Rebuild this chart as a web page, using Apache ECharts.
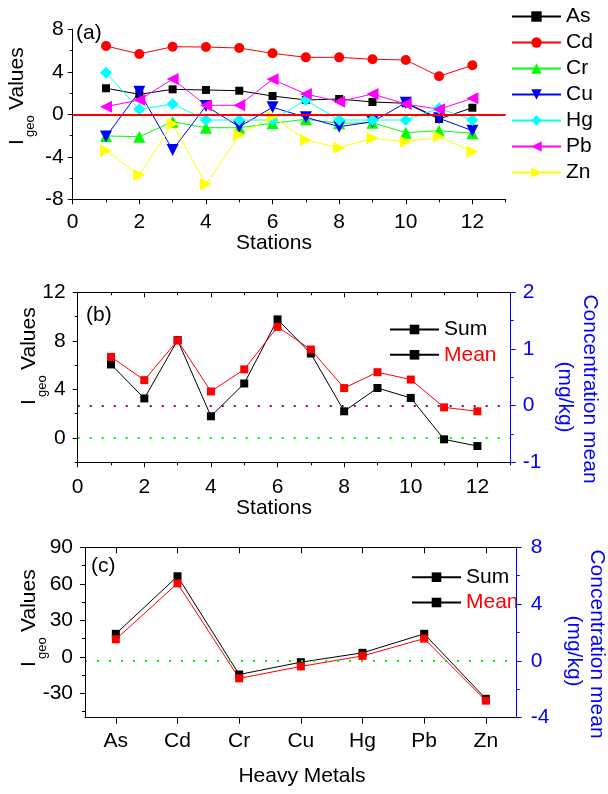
<!DOCTYPE html>
<html><head><meta charset="utf-8">
<script src="https://cdn.jsdelivr.net/npm/echarts@6/dist/echarts.min.js"></script>
<style>html,body{margin:0;padding:0;background:#fff}#c{width:608px;height:794px}</style>
</head><body><div id="c"></div>
<script>
// ---------- data ----------
const stations = [1,2,3,4,5,6,7,8,9,10,11,12];
const As = [2.45,1.88,2.35,2.29,2.22,1.72,1.35,1.44,1.16,1.04,-0.44,0.62];
const Cd = [6.43,5.68,6.36,6.33,6.24,5.74,5.36,5.36,5.18,5.11,3.58,4.61];
const Cr = [-2.04,-2.11,-0.70,-1.26,-1.26,-0.85,-0.47,-0.85,-0.79,-1.73,-1.54,-1.79];
const Cu = [-2.10,2.13,-3.36,0.78,-1.17,0.66,-0.28,-1.17,-0.70,1.09,-0.38,-1.54];
const Hg = [3.92,0.47,0.97,-0.54,-0.54,-0.54,1.35,-0.54,-0.54,-0.54,0.56,-0.54];
const Pb = [0.72,1.35,3.32,0.85,0.85,3.29,1.91,1.19,1.91,0.97,0.47,1.51];
const Zn = [-3.42,-5.71,-0.91,-6.59,-1.95,-0.22,-2.42,-3.14,-2.26,-2.58,-2.11,-3.52];
const stationSum = [6.06,3.26,8.06,1.79,4.49,9.77,6.96,2.20,4.12,3.30,-0.11,-0.66];
const stationMean = [0.86,0.45,1.15,0.25,0.64,1.39,0.99,0.31,0.59,0.46,-0.03,-0.10];
const metals = ['As','Cd','Cr','Cu','Hg','Pb','Zn'];
const metalSum = [18.9,66.2,-14.5,-4.4,3.3,18.9,-34.5];
const metalMean = [1.52,5.46,-1.23,-0.39,0.35,1.57,-2.80];
const stationTicks = [0,2,4,6,8,10,12];
const stationMinor = [1,3,5,7,9,11,13];
const bLeftTicks = [0,4,8,12];
const bLeftMinor = [-2,2,6,10];
const cLeftTicks = [-30,0,30,60,90];
const cLeftMinor = [-45,-15,15,45,75];

// ---------- helpers ----------
const FONT = '"Liberation Sans", Arial, sans-serif';
const FS = 21;
function axis(o) {
  const a = {
    type: o.type || 'value',
    gridIndex: o.grid,
    position: o.position,
    axisLine: {show: o.line !== false, onZero: false, lineStyle: {color: o.color || '#000', width: 1}},
    splitLine: {show: false},
    axisTick: {show: true, inside: !!o.inside, length: o.tickLen || 5, lineStyle: {color: o.color || '#000', width: 1}},
    axisLabel: {show: !!o.label, fontSize: FS, fontFamily: FONT, color: o.color || '#000', margin: o.margin || 10},
    minorTick: {show: !!o.minor, splitNumber: 2, length: 3, lineStyle: {color: o.color || '#000', width: 1}},
    z: 5
  };
  if (o.min !== undefined) a.min = o.min;
  if (o.max !== undefined) a.max = o.max;
  if (o.interval !== undefined) a.interval = o.interval;
  if (o.ticks) a.axisTick.customValues = o.ticks;
  if (o.labels) a.axisLabel.customValues = o.labels;
  if (o.data) { a.data = o.data; a.boundaryGap = true; a.axisTick.alignWithLabel = true; a.axisTick.interval = 0; a.axisLabel.interval = 0; }
  return a;
}
function pairs(xs, ys) { return xs.map((x, i) => [x, ys[i]]); }
function dotted(color) {
  return {silent: true, symbol: ['none','none'], label: {show: false}, animation: false,
    lineStyle: {color: color, width: 2, type: [2, 10]}, data: [{yAxis: 0}]};
}

const xAxis = [
  axis({grid:0, position:'bottom', min:0, max:13, ticks:stationTicks, labels:stationTicks, label:true, margin:12}),
  axis({grid:0, position:'bottom', min:0, max:13, ticks:stationMinor, line:false, tickLen:3}),
  axis({grid:1, position:'bottom', min:0, max:13, ticks:stationTicks, labels:stationTicks, label:true, margin:14}),
  axis({grid:1, position:'bottom', min:0, max:13, ticks:stationMinor, line:false, tickLen:3}),
  axis({grid:1, position:'top', min:0, max:13, ticks:stationTicks, inside:true}),
  axis({grid:1, position:'top', min:0, max:13, ticks:stationMinor, line:false, tickLen:3, inside:true}),
  axis({grid:2, position:'bottom', type:'category', data:metals, label:true, margin:13, tickLen:6}),
  axis({grid:2, position:'top', type:'category', data:metals, inside:true, tickLen:6})
];
const yAxis = [
  axis({grid:0, position:'left', min:-8, max:8, interval:4, minor:true, label:true, margin:9}),
  axis({grid:1, position:'left', min:-2, max:12, ticks:bLeftTicks, labels:bLeftTicks, label:true, margin:12}),
  axis({grid:1, position:'left', min:-2, max:12, ticks:bLeftMinor, line:false, tickLen:3}),
  axis({grid:1, position:'right', min:-1, max:2, interval:1, minor:true, label:true, margin:12, color:'#0000ff'}),
  axis({grid:2, position:'left', min:-50, max:90, ticks:cLeftTicks, labels:cLeftTicks, label:true, margin:12}),
  axis({grid:2, position:'left', min:-50, max:90, ticks:cLeftMinor, line:false, tickLen:3}),
  axis({grid:2, position:'right', min:-4, max:8, interval:4, minor:true, label:true, margin:14, color:'#0000ff'})
];

function metalSeries(name, arr, color, symbol, size, rot) {
  return {type:'line', name, xAxisIndex:0, yAxisIndex:0, data: pairs(stations, arr),
    symbol, symbolSize: size, symbolRotate: rot || 0,
    lineStyle:{color, width:1}, itemStyle:{color}, z: 3, animation:false};
}
const series = [
  metalSeries('As', As, '#000000', 'rect', 8),
  metalSeries('Cd', Cd, '#ff0000', 'circle', 10),
  metalSeries('Cr', Cr, '#00ff00', 'triangle', 12),
  metalSeries('Cu', Cu, '#0000ff', 'triangle', 12, 180),
  metalSeries('Hg', Hg, '#00ffff', 'diamond', 12),
  metalSeries('Pb', Pb, '#ff00ff', 'triangle', 12, 90),
  metalSeries('Zn', Zn, '#ffff00', 'triangle', 12, -90),
  {type:'line', name:'zero', xAxisIndex:0, yAxisIndex:0, data:[], animation:false,
    markLine:{silent:true, symbol:['none','none'], label:{show:false}, animation:false,
      lineStyle:{color:'#ff0000', width:2, type:'solid'}, data:[{yAxis:0}]}},
  {type:'line', name:'Sum', xAxisIndex:2, yAxisIndex:1, data: pairs(stations, stationSum),
    symbol:'rect', symbolSize:8, lineStyle:{color:'#000', width:1}, itemStyle:{color:'#000'},
    markLine: dotted('#00ee00'), animation:false},
  {type:'line', name:'Mean', xAxisIndex:2, yAxisIndex:3, data: pairs(stations, stationMean),
    symbol:'rect', symbolSize:8, lineStyle:{color:'#ff0000', width:1}, itemStyle:{color:'#ff0000'},
    markLine: dotted('#800080'), animation:false},
  {type:'line', name:'Sum', xAxisIndex:6, yAxisIndex:4, data: metalSum,
    symbol:'rect', symbolSize:8, lineStyle:{color:'#000', width:1}, itemStyle:{color:'#000'}, animation:false},
  {type:'line', name:'Mean', xAxisIndex:6, yAxisIndex:6, data: metalMean,
    symbol:'rect', symbolSize:8, lineStyle:{color:'#ff0000', width:1}, itemStyle:{color:'#ff0000'},
    markLine: dotted('#00ee00'), animation:false}
];

const legTxt = {fontSize: FS, fontFamily: FONT, color:'#000', lineHeight: 20};
const sumMean = [{name:'Sum'}, {name:'Mean', itemStyle:{color:'#000'}, lineStyle:{color:'#000'}, textStyle:{color:'#ff0000'}}];
const legend = [
  {data: metals, orient:'vertical', left:511, top:6, itemWidth:49, itemHeight:13, itemGap:5, padding:0, textStyle: legTxt, selectedMode:false},
  {data: sumMean, orient:'vertical', left:389, top:319, itemWidth:49, itemHeight:12, itemGap:4.3, padding:0, textStyle: legTxt, selectedMode:false},
  {data: sumMean, orient:'vertical', left:411, top:566.7, itemWidth:49, itemHeight:12, itemGap:4.3, padding:0, textStyle: legTxt, selectedMode:false}
];

function txt(text, x, y, o) {
  o = o || {};
  return {type:'text', x, y, rotation: o.rot || 0, silent:true,
    style:{text, fontSize: o.fs || FS, fontFamily: FONT, fill: o.color || '#000',
      align: o.align || 'center', verticalAlign: 'middle'}};
}
function ytitle(xMid, yStart) {
  return {type:'group', x: xMid, y: yStart, rotation: Math.PI / 2, silent:true, children: [
    {type:'text', x:0, y:0, style:{text:'I', fontSize: FS, fontFamily: FONT, fill:'#000', align:'left', verticalAlign:'middle'}},
    {type:'text', x:8, y:13, style:{text:'geo', fontSize: 13, fontFamily: FONT, fill:'#000', align:'left', verticalAlign:'middle'}},
    {type:'text', x:35, y:0, style:{text:'Values', fontSize: FS, fontFamily: FONT, fill:'#000', align:'left', verticalAlign:'middle'}}
  ]};
}
const graphic = [
  txt('(a)', 76, 33.5, {align:'left'}),
  txt('(b)', 86, 315, {align:'left'}),
  txt('(c)', 91, 566.5, {align:'left'}),
  txt('Stations', 274, 243),
  txt('Stations', 274, 508),
  txt('Heavy Metals', 302, 776),
  ytitle(17.5, 145),
  ytitle(29, 405),
  ytitle(29.5, 667),
  txt('Concentration mean', 590, 389, {rot: -Math.PI/2, color:'#0000ff'}),
  txt('(mg/kg)', 565, 397, {rot: -Math.PI/2, color:'#0000ff'}),
  txt('Concentration mean', 596.5, 644, {rot: -Math.PI/2, color:'#0000ff'}),
  txt('(mg/kg)', 573.5, 651, {rot: -Math.PI/2, color:'#0000ff'})
];

const chart = echarts.init(document.getElementById('c'), null, {renderer:'canvas'});
chart.setOption({
  animation: false,
  backgroundColor: '#fff',
  grid: [
    {left:72.7, top:29.3, width:433, height:170, outerBoundsMode:'none', containLabel:false},
    {left:77.7, top:292.3, width:433, height:170, outerBoundsMode:'none', containLabel:false},
    {left:85, top:547.3, width:431.7, height:170.4, outerBoundsMode:'none', containLabel:false}
  ],
  xAxis, yAxis, series, legend, graphic
});
</script></body></html>
